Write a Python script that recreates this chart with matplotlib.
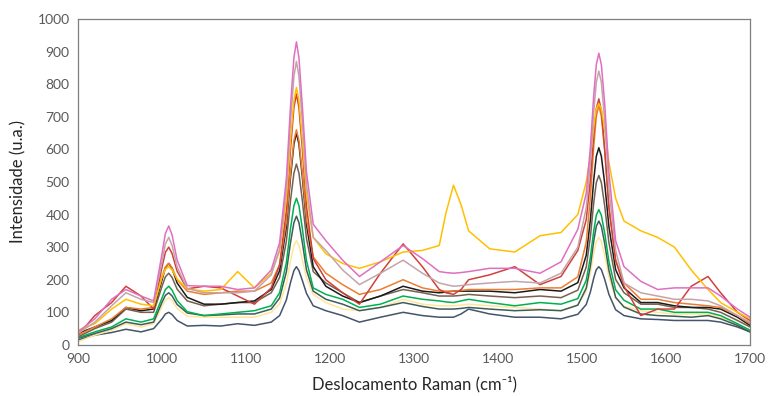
import matplotlib.pyplot as plt
import numpy as np

plt.rcParams['font.family'] = ['Lato', 'DejaVu Sans']

# Raman shift (cm-1) where values were read
shift = [900, 920, 940, 957, 975, 990, 1000, 1004, 1008, 1012,
         1018, 1030, 1050, 1070, 1090, 1110, 1130, 1140, 1148, 1153,
         1157, 1160, 1163, 1167, 1172, 1180, 1195, 1215, 1235, 1260,
         1287, 1310, 1330, 1338, 1347, 1356, 1365, 1390, 1420, 1450,
         1475, 1495, 1505, 1510, 1514, 1517, 1520, 1523, 1527, 1532,
         1540, 1550, 1570, 1590, 1610, 1630, 1650, 1665, 1685, 1700]

s_slate = [15, 30, 38, 48, 40, 50, 80, 95, 100, 93,
           75, 58, 60, 58, 65, 60, 70, 90, 138, 192,
           228, 240, 228, 198, 158, 120, 105, 90, 70, 85,
           100, 90, 85, 85, 85, 95, 110, 95, 85, 85,
           80, 94, 124, 163, 206, 231, 240, 231, 201, 155,
           108, 90, 80, 78, 75, 75, 75, 70, 55, 40]
s_paleyellow = [10, 30, 45, 65, 55, 65, 118, 138, 145, 136,
                112, 88, 85, 85, 85, 85, 100, 126, 188, 258,
                305, 320, 305, 262, 205, 155, 130, 110, 105, 115,
                140, 125, 120, 120, 120, 122, 125, 120, 115, 110,
                105, 123, 165, 220, 282, 317, 330, 317, 275, 209,
                143, 119, 105, 100, 95, 95, 95, 85, 65, 45]
s_teal = [20, 35, 50, 70, 62, 70, 131, 152, 160, 150,
          124, 98, 90, 92, 95, 95, 110, 144, 224, 315,
          375, 395, 375, 315, 230, 165, 140, 125, 105, 115,
          130, 118, 110, 110, 110, 112, 115, 110, 105, 108,
          105, 122, 174, 243, 320, 364, 380, 364, 311, 229,
          146, 116, 95, 90, 88, 85, 90, 80, 60, 40]
s_green = [22, 40, 55, 80, 70, 80, 144, 170, 180, 168,
           136, 102, 90, 95, 100, 105, 120, 160, 252, 358,
           427, 450, 427, 358, 258, 175, 155, 140, 115, 125,
           150, 140, 135, 132, 130, 135, 140, 130, 120, 130,
           125, 142, 198, 270, 351, 398, 415, 398, 343, 256,
           169, 137, 110, 110, 100, 100, 100, 90, 65, 45]
s_brown = [25, 50, 70, 110, 100, 100, 180, 209, 220, 207,
           171, 135, 120, 125, 130, 130, 160, 207, 318, 444,
           527, 555, 527, 444, 326, 225, 190, 160, 130, 150,
           170, 160, 150, 150, 150, 152, 155, 150, 145, 150,
           145, 168, 239, 333, 438, 498, 520, 498, 426, 314,
           201, 160, 125, 125, 115, 115, 110, 100, 75, 55]
s_black = [35, 55, 75, 115, 105, 110, 200, 237, 250, 234,
           190, 146, 125, 125, 130, 135, 170, 228, 362, 516,
           616, 650, 616, 516, 370, 240, 180, 150, 130, 150,
           180, 165, 160, 162, 165, 165, 165, 165, 160, 170,
           165, 191, 275, 385, 508, 579, 605, 579, 495, 363,
           231, 175, 130, 130, 120, 115, 115, 110, 85, 60]
s_orange = [30, 55, 80, 115, 110, 115, 210, 239, 250, 237,
            200, 165, 155, 160, 165, 165, 190, 246, 378, 528,
            627, 660, 627, 528, 385, 270, 220, 185, 155, 170,
            200, 175, 165, 165, 165, 167, 170, 170, 170, 175,
            175, 209, 315, 455, 612, 701, 735, 701, 595, 427,
            259, 190, 140, 140, 130, 125, 120, 115, 90, 65]
s_red = [30, 90, 130, 180, 150, 110, 239, 284, 300, 280,
         226, 172, 180, 175, 150, 125, 175, 246, 413, 603,
         728, 770, 728, 603, 425, 265, 200, 160, 125, 220,
         310, 240, 170, 160, 155, 170, 200, 215, 240, 185,
         210, 290, 384, 508, 646, 725, 755, 720, 600, 420,
         260, 180, 90, 110, 110, 180, 210, 160, 100, 75]
s_gold = [45, 65, 110, 140, 125, 120, 208, 232, 240, 230,
          202, 172, 165, 170, 225, 175, 220, 288, 448, 630,
          750, 790, 750, 630, 460, 330, 280, 250, 235, 255,
          285, 290, 305, 405, 490, 430, 350, 295, 285, 335,
          345, 400, 500, 580, 670, 725, 740, 725, 660, 560,
          450, 380, 350, 330, 300, 230, 170, 130, 100, 80]
s_mauve = [35, 70, 120, 160, 140, 130, 256, 310, 330, 305,
           239, 173, 160, 160, 160, 165, 215, 294, 477, 687,
           824, 870, 824, 687, 490, 330, 290, 230, 185, 220,
           260, 220, 190, 185, 180, 182, 185, 190, 195, 190,
           220, 300, 420, 560, 717, 806, 840, 806, 690, 480,
           290, 190, 160, 150, 140, 140, 135, 120, 90, 70]
s_pink = [40, 80, 140, 170, 150, 135, 280, 342, 365, 337,
          260, 182, 180, 180, 170, 175, 230, 314, 510, 734,
          881, 930, 881, 734, 530, 370, 320, 260, 210, 255,
          305, 265, 225, 222, 220, 222, 225, 235, 235, 220,
          255, 355, 465, 608, 769, 860, 895, 860, 740, 530,
          320, 240, 195, 170, 175, 175, 175, 150, 110, 85]

series = [
    (s_slate, '#44546A'),
    (s_paleyellow, '#FFE699'),
    (s_teal, '#3D5C5C'),
    (s_green, '#00B050'),
    (s_brown, '#766050'),
    (s_black, '#1A1A1A'),
    (s_orange, '#ED7D31'),
    (s_red, '#D0413A'),
    (s_gold, '#FFC000'),
    (s_mauve, '#C4A4A8'),
    (s_pink, '#E06FC0'),
]

fig = plt.figure(figsize=(7.68, 3.96), dpi=100)
ax = fig.add_axes([0.1016, 0.129, 0.875, 0.823])

for vals, col in series:
    ax.plot(shift, vals, color=col, lw=1.1)

ax.set_xlim(900, 1700)
ax.set_ylim(0, 1000)
ax.set_xticks(np.arange(900, 1701, 100))
ax.set_yticks(np.arange(0, 1001, 100))
ax.tick_params(length=0, labelsize=10, labelcolor='#595959', pad=6)
for s in ax.spines.values():
    s.set_color('#7F7F7F')
    s.set_linewidth(0.9)

ax.set_xlabel('Deslocamento Raman (cm⁻¹)', fontsize=12, color='#262626', labelpad=8)
ax.set_ylabel('Intensidade (u.a.)', fontsize=12, color='#262626', labelpad=8)

fig.savefig('out.png', dpi=100)
